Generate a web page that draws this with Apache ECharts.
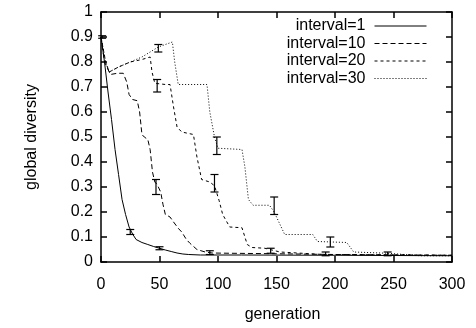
<!DOCTYPE html>
<html lang="en">
<head>
<meta charset="UTF-8">
<script src="https://cdn.jsdelivr.net/npm/echarts@6.0.0/dist/echarts.min.js"></script>
<style>
  html, body { margin: 0; padding: 0; background: #fff; }
  #chart { width: 476px; height: 328px; }
</style>
</head>
<body>
<div id="chart"></div>
<script>
// series names
const names = ['interval=1', 'interval=10', 'interval=20', 'interval=30'];

// [generation, global diversity]
const interval1 = [[0,0.9],[3,0.8],[6,0.68],[9,0.57],[12,0.45],[15,0.35],[18,0.25],[21,0.19],[24,0.14],[27,0.112],[30,0.09],[35,0.078],[40,0.07],[45,0.062],[50,0.055],[55,0.048],[60,0.042],[65,0.036],[70,0.032],[75,0.03],[85,0.028],[120,0.028],[200,0.027],[300,0.025]];
const interval10 = [[0,0.9],[3,0.8],[8,0.75],[14,0.755],[19,0.755],[22,0.72],[24,0.67],[27,0.65],[31,0.645],[33,0.6],[35,0.51],[37,0.5],[40,0.49],[42,0.45],[44,0.36],[46,0.32],[48,0.31],[51,0.28],[53,0.23],[55,0.19],[59,0.18],[62,0.16],[66,0.135],[69,0.12],[73,0.09],[76,0.075],[82,0.05],[89,0.04],[95,0.036],[110,0.035],[150,0.033],[200,0.03],[300,0.027]];
const interval20 = [[0,0.9],[4,0.8],[7,0.76],[15,0.78],[25,0.8],[35,0.81],[42,0.82],[43.6,0.76],[46,0.715],[55,0.71],[59,0.71],[62,0.62],[65,0.54],[69,0.52],[79,0.51],[82,0.42],[86,0.33],[93,0.32],[97,0.305],[101,0.245],[104,0.19],[110,0.14],[120.5,0.137],[125,0.07],[129,0.058],[140,0.055],[153,0.04],[190,0.03],[300,0.027]];
const interval30 = [[0,0.9],[4,0.8],[7,0.76],[15,0.78],[25,0.8],[35,0.82],[49,0.86],[61,0.88],[63,0.8],[66,0.71],[90.6,0.71],[93,0.6],[97,0.5],[100,0.455],[120.5,0.45],[123,0.38],[126,0.25],[130,0.227],[144,0.227],[148,0.2],[153,0.15],[157,0.11],[181,0.11],[185,0.082],[210,0.078],[216,0.04],[245,0.035],[273,0.025],[300,0.025]];

// error bars: [generation, low, high]
const err1 = [[1,0.895,0.905],[25,0.11,0.13],[50,0.049,0.061]];
const err10 = [[47,0.27,0.33],[93,0.03,0.045],[192,0.025,0.04]];
const err20 = [[48,0.68,0.73],[97,0.28,0.35],[145,0.035,0.055]];
const err30 = [[49,0.84,0.87],[99,0.43,0.5],[148,0.19,0.26],[196,0.06,0.1],[245,0.025,0.04]];

const xTicks = { min: 0, max: 300, interval: 50 };
const yTicks = { min: 0, max: 1, interval: 0.1 };

const dashes = ['solid', [5, 3], [3, 3], [1, 2]];
const lines = [interval1, interval10, interval20, interval30];
const errs = [err1, err10, err20, err30];

const chart = echarts.init(document.getElementById('chart'), null, { renderer: 'canvas' });

const font = 'Liberation Sans, Arial, sans-serif';
const fs = 16;
const axisLine = { show: true, onZero: false, lineStyle: { color: '#000', width: 1.5 } };
const tick = { show: true, inside: true, length: 6, lineStyle: { color: '#000', width: 1.5 } };

function errorBar(params, api) {
  const x = api.value(0);
  const lo = api.coord([x, api.value(1)]);
  const hi = api.coord([x, api.value(2)]);
  const w = 4;
  const st = { stroke: '#000', lineWidth: 1.2 };
  return {
    type: 'group',
    children: [
      { type: 'line', shape: { x1: lo[0], y1: lo[1], x2: hi[0], y2: hi[1] }, style: st },
      { type: 'line', shape: { x1: lo[0] - w, y1: lo[1], x2: lo[0] + w, y2: lo[1] }, style: st },
      { type: 'line', shape: { x1: hi[0] - w, y1: hi[1], x2: hi[0] + w, y2: hi[1] }, style: st }
    ]
  };
}

const series = [];
lines.forEach((d, i) => {
  series.push({
    name: names[i],
    type: 'line',
    data: d,
    symbol: 'none',
    silent: true,
    animation: false,
    lineStyle: { color: '#000', width: 1, type: dashes[i] },
    itemStyle: { color: '#000' }
  });
});
errs.forEach((d, i) => {
  series.push({
    type: 'custom',
    data: d,
    renderItem: errorBar,
    silent: true,
    animation: false,
    z: 3
  });
});

chart.setOption({
  animation: false,
  grid: { left: 101, right: 24, top: 12, bottom: 60, containLabel: false },
  legend: {
    data: names,
    orient: 'vertical',
    right: 44,
    top: 13,
    align: 'right',
    itemWidth: 52,
    itemHeight: 10,
    itemGap: 1.5,
    itemStyle: { opacity: 0 },
    lineStyle: { width: 1 },
    textStyle: { color: '#000', fontSize: fs, fontFamily: font, lineHeight: 14, width: 90, align: 'right', padding: [0, 4, 0, 0] },
    selectedMode: false
  },
  xAxis: [{
    type: 'value', ...xTicks,
    name: 'generation', nameLocation: 'middle', nameGap: 45,
    nameTextStyle: { color: '#000', fontSize: fs, fontFamily: font, padding: [0, 0, 0, 12] },
    axisLine, axisTick: tick,
    axisLabel: { color: '#000', fontSize: fs, fontFamily: font, margin: 15 },
    splitLine: { show: false }
  }, {
    type: 'value', ...xTicks, position: 'top',
    axisLine, axisTick: tick, axisLabel: { show: false }, splitLine: { show: false }
  }],
  yAxis: [{
    type: 'value', ...yTicks,
    name: 'global diversity', nameLocation: 'middle', nameGap: 61,
    nameTextStyle: { color: '#000', fontSize: fs, fontFamily: font },
    axisLine, axisTick: tick,
    axisLabel: { color: '#000', fontSize: fs, fontFamily: font, margin: 8 },
    splitLine: { show: false }
  }, {
    type: 'value', ...yTicks, position: 'right',
    axisLine, axisTick: tick, axisLabel: { show: false }, splitLine: { show: false }
  }],
  series
});
</script>
</body>
</html>
